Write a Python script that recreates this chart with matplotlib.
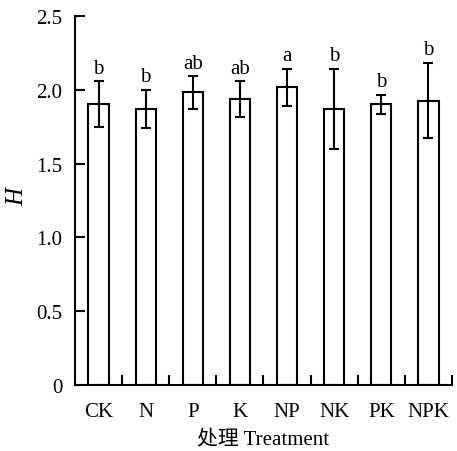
import matplotlib.pyplot as plt
import numpy as np

# data
treatments = ['CK', 'N', 'P', 'K', 'NP', 'NK', 'PK', 'NPK']
h_mean = [1.905, 1.872, 1.984, 1.939, 2.018, 1.872, 1.903, 1.928]
h_err = [0.155, 0.13, 0.11, 0.12, 0.125, 0.27, 0.065, 0.255]
letters = ['b', 'b', 'ab', 'ab', 'a', 'b', 'b', 'b']

plt.rcParams['font.family'] = ['Liberation Serif', 'Noto Sans CJK SC']
plt.rcParams['font.size'] = 15

fig = plt.figure(figsize=(4.57, 4.52), dpi=100)
ax = fig.add_axes([0.164, 0.146, 0.825, 0.816])

x = np.arange(len(treatments))
ax.bar(x, h_mean, width=0.43, color='white', edgecolor='black', linewidth=1.5,
       yerr=h_err, capsize=3.5, error_kw=dict(elinewidth=1.5, capthick=1.5, ecolor='black'))

# significance letters above the error bars
for xi, m, e, lab in zip(x, h_mean, h_err, letters):
    ax.text(xi, m + e + 0.058, lab, ha='center', va='baseline', fontsize=15)

ax.set_xlim(-0.5, 7.5)
ax.set_ylim(0, 2.5)
ax.set_yticks([0, 0.5, 1.0, 1.5, 2.0, 2.5])
ax.set_yticklabels(['0', '0.5', '1.0', '1.5', '2.0', '2.5'])

# category labels at bar centres, tick marks between bars
ax.set_xticks(x + 0.5)
ax.set_xticklabels([])
ax.set_xticks(x, minor=True)
ax.set_xticklabels(treatments, minor=True)
ax.tick_params(axis='x', which='minor', length=0, pad=12)
ax.tick_params(axis='x', which='major', direction='in', length=7, width=1.5)
ax.tick_params(axis='y', direction='in', length=7, width=1.5, pad=9)

for side in ['top', 'right']:
    ax.spines[side].set_visible(False)
for side in ['left', 'bottom']:
    ax.spines[side].set_linewidth(1.5)

# y label placed by hand so it is not clipped
fig.text(17 / 457, 1 - 197 / 452, 'H', style='italic', fontsize=18,
         rotation=90, ha='center', va='center')
ax.set_xlabel('处理 Treatment', labelpad=7)

fig.savefig('out.png', dpi=100)
